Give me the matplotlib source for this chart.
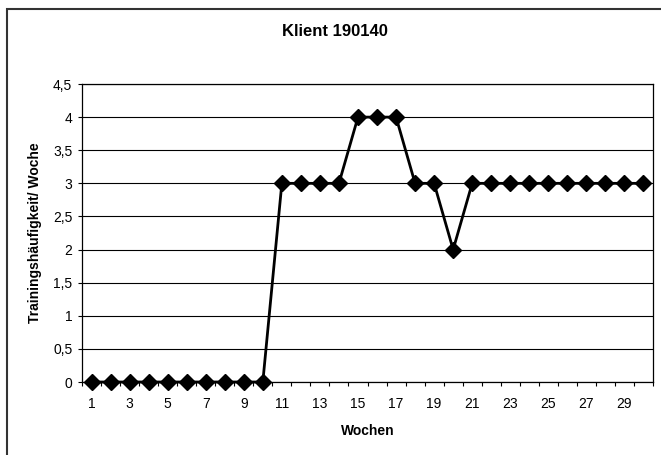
import matplotlib.pyplot as plt
from matplotlib.patches import Rectangle

plt.rcParams['font.family'] = ['Liberation Sans', 'DejaVu Sans']

weeks = list(range(1, 31))
sessions = [0, 0, 0, 0, 0, 0, 0, 0, 0, 0,
            3, 3, 3, 3, 4, 4, 4, 3, 3, 2,
            3, 3, 3, 3, 3, 3, 3, 3, 3, 3]
yticks = [0, 0.5, 1, 1.5, 2, 2.5, 3, 3.5, 4, 4.5]
ylabels = [str(v).replace('.', ',') if v % 1 else str(int(v)) for v in yticks]
xticks = list(range(1, 31, 2))

W, H = 661, 455
fig = plt.figure(figsize=(W / 100, H / 100), dpi=100)
# outer chart frame (runs off the right and bottom edges)
fig.patches.append(Rectangle((6.5 / W, -10 / H), 700 / W, (H + 10 - 8.5) / H,
                             transform=fig.transFigure, fill=False,
                             edgecolor='#333333', linewidth=1.5))

ax = fig.add_axes([82 / W, 1 - 382 / H, 571 / W, 298 / H])
ax.plot(weeks, sessions, color='black', linewidth=2, marker='D',
        markersize=8.5, markerfacecolor='black', markeredgecolor='black',
        clip_on=False, zorder=3)

ax.set_xlim(0.5, 30.5)
ax.set_ylim(0, 4.5)
ax.set_yticks(yticks)
ax.set_yticklabels(ylabels, fontsize=10)
ax.set_xticks(xticks)
ax.set_xticklabels([str(x) for x in xticks], fontsize=10)
ax.set_xticks([x + 0.5 for x in range(0, 31)], minor=True)
ax.tick_params(axis='x', which='major', length=0, pad=10.5)
ax.tick_params(axis='x', which='minor', length=3, direction='out', width=0.8)
ax.tick_params(axis='y', length=3, direction='out', width=0.8, pad=4)

for v in yticks:
    ax.axhline(v, color='black', linewidth=0.8, zorder=1)
for s in ax.spines.values():
    s.set_linewidth(0.9)

fig.text(335 / W, 1 - 32 / H, 'Klient 190140', fontsize=12,
         fontweight='bold', ha='center', va='center')
ax.set_xlabel('Wochen', fontsize=10, fontweight='bold', va='center')
ax.xaxis.set_label_coords(0.5, -(431 - 382) / 298)
ax.set_ylabel('Trainingshäufigkeit/ Woche', fontsize=10, fontweight='bold',
              va='center')
ax.yaxis.set_label_coords(-(82 - 35) / 571, 0.5)

fig.savefig('out.png', dpi=100)
